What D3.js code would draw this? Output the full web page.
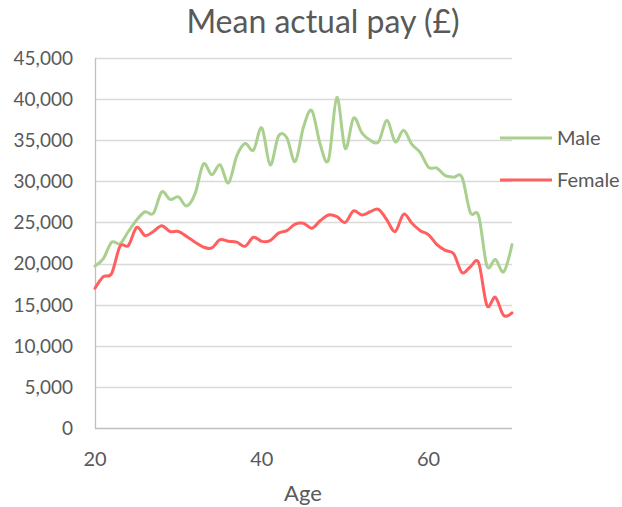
<!DOCTYPE html>
<html><head><meta charset="utf-8">
<script src="https://cdn.jsdelivr.net/npm/d3@7"></script>
<style>
html,body{margin:0;padding:0;background:#fff;}
svg{display:block;font-family:Lato,"Open Sans",sans-serif;}
</style></head>
<body>
<svg id="c" width="622" height="507"></svg>
<script>
const ages = d3.range(20, 71);
const male = [19700,20600,22600,22400,23900,25300,26300,26100,28700,27800,
              28100,27000,28500,32100,30800,32000,29800,33100,34600,33800,
              36500,32000,35500,35300,32400,36600,38600,34500,32600,40200,
              34000,37700,35900,35000,34800,37400,34800,36200,34500,33500,
              31700,31600,30700,30500,30500,26200,25800,19700,20500,19000,22300];
const female = [17000,18400,18800,22100,22200,24400,23400,23900,24600,23900,
                23900,23300,22600,22000,21900,22900,22700,22600,22100,23200,
                22700,22800,23700,24000,24800,24900,24300,25200,25900,25700,
                25000,26400,25900,26300,26600,25300,23900,26000,24900,24000,
                23500,22300,21600,21200,18900,19600,20100,14900,15900,13700,14000];
const yTicks = d3.range(0, 45001, 5000);
const xTicks = [20, 40, 60];
const series = [
  {name: "Male", values: male, color: "#A9D08E"},
  {name: "Female", values: female, color: "#FF5F5F"}
];

const svg = d3.select("#c");
const x = d3.scaleLinear().domain([20, 70]).range([95, 512]);
const y = d3.scaleLinear().domain([0, 45000]).range([428, 58]);
const txt = "#595959";

// gridlines
svg.append("g").selectAll("line").data(yTicks.filter(d => d > 0)).join("line")
  .attr("x1", 95).attr("x2", 512)
  .attr("y1", d => Math.round(y(d)) + 0.5).attr("y2", d => Math.round(y(d)) + 0.5)
  .attr("stroke", "#d9d9d9").attr("stroke-width", 1.3);

// axes lines
svg.append("line").attr("x1", 95.5).attr("x2", 95.5).attr("y1", 58).attr("y2", 428.5)
  .attr("stroke", "#bfbfbf").attr("stroke-width", 1.3);
svg.append("line").attr("x1", 95).attr("x2", 512).attr("y1", 428.5).attr("y2", 428.5)
  .attr("stroke", "#bfbfbf").attr("stroke-width", 1.3);

// y tick labels
svg.append("g").selectAll("text").data(yTicks).join("text")
  .attr("x", 73).attr("y", d => y(d))
  .attr("dy", "0.36em").attr("text-anchor", "end")
  .attr("font-size", 19).attr("fill", txt)
  .text(d => d3.format(",")(d));

// x tick labels
svg.append("g").selectAll("text").data(xTicks).join("text")
  .attr("x", d => x(d)).attr("y", 466)
  .attr("text-anchor", "middle")
  .attr("font-size", 20).attr("fill", txt)
  .text(d => d);

// axis title
svg.append("text").attr("x", 303).attr("y", 501).attr("text-anchor", "middle")
  .attr("font-size", 22).attr("fill", txt).text("Age");

// title
svg.append("text").attr("x", 323).attr("y", 33).attr("text-anchor", "middle")
  .attr("font-size", 32).attr("fill", txt).text("Mean actual pay (£)");

// lines
const line = d3.line().x((d, i) => x(ages[i])).y(d => y(d)).curve(d3.curveCatmullRom.alpha(0));
svg.append("g").selectAll("path").data(series).join("path")
  .attr("d", d => line(d.values))
  .attr("fill", "none").attr("stroke", d => d.color)
  .attr("stroke-width", 3).attr("stroke-linejoin", "round").attr("stroke-linecap", "round");

// legend
const lg = svg.append("g").selectAll("g").data(series).join("g")
  .attr("transform", (d, i) => `translate(0,${138 + i * 42})`);
lg.append("line").attr("x1", 500).attr("x2", 552).attr("stroke", d => d.color).attr("stroke-width", 3);
lg.append("text").attr("x", 557).attr("dy", "0.36em").attr("font-size", 20).attr("fill", txt).text(d => d.name);
</script>
</body></html>
